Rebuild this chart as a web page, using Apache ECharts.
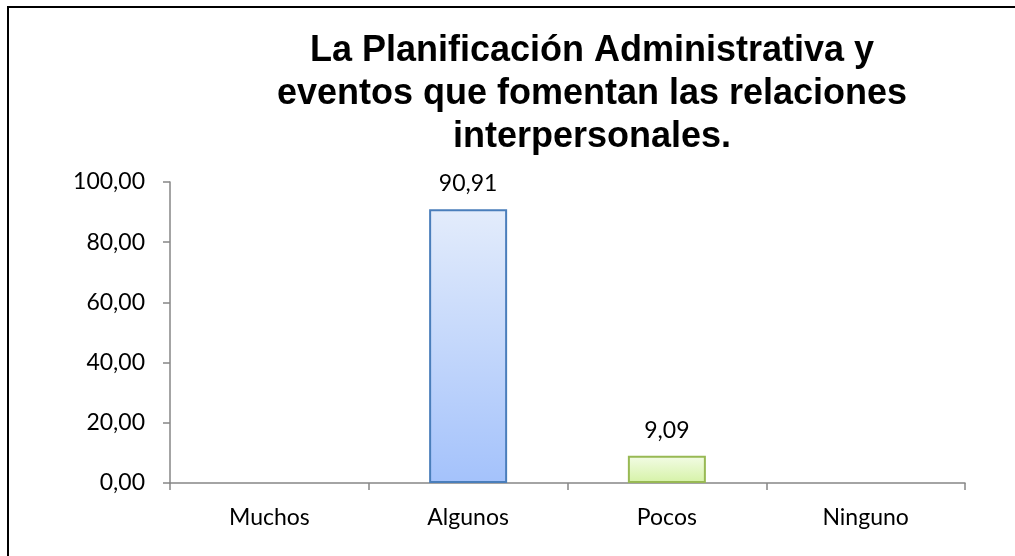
<!DOCTYPE html>
<html>
<head>
<meta charset="utf-8">
<script src="https://cdn.jsdelivr.net/npm/echarts@6/dist/echarts.min.js"></script>
<style>
  html, body { margin: 0; padding: 0; background: #fff; }
  #chart { width: 1015px; height: 556px; }
</style>
</head>
<body>
<div id="chart"></div>
<script>
const categories = ['Muchos', 'Algunos', 'Pocos', 'Ninguno'];
const values = [null, 90.91, 9.09, null];
const yTicks = [0, 20, 40, 60, 80, 100];
const titleText = 'La Planificación Administrativa y\neventos que fomentan las relaciones\ninterpersonales.';

const blueFill = new echarts.graphic.LinearGradient(0, 0, 0, 1, [
  { offset: 0, color: '#E3ECFB' }, { offset: 1, color: '#A4C2FB' }
]);
const greenFill = new echarts.graphic.LinearGradient(0, 0, 0, 1, [
  { offset: 0, color: '#F3FCE6' }, { offset: 1, color: '#D5F2A6' }
]);
const styles = [
  null,
  { color: blueFill, borderColor: '#4A7EBB', borderWidth: 2 },
  { color: greenFill, borderColor: '#98B954', borderWidth: 2 },
  null
];

const fmt = v => v.toFixed(2).replace('.', ',');

const chart = echarts.init(document.getElementById('chart'), null, { renderer: 'canvas' });
chart.setOption({
  backgroundColor: '#ffffff',
  animation: false,
  title: {
    text: titleText,
    left: 587,
    top: 25,
    textAlign: 'center',
    textStyle: {
      fontFamily: '"Liberation Sans", Arial, sans-serif',
      fontWeight: 'bold',
      fontSize: 36,
      lineHeight: 43,
      color: '#000'
    }
  },
  graphic: [{
    type: 'rect',
    shape: { x: 8, y: 7, width: 1200, height: 700 },
    style: { fill: 'none', stroke: '#000', lineWidth: 2 },
    silent: true
  }],
  grid: { left: 170, right: 50, top: 182, bottom: 73 },
  xAxis: {
    type: 'category',
    data: categories,
    axisLine: { lineStyle: { color: '#868686', width: 1.5 } },
    axisTick: { show: true, length: 7, lineStyle: { color: '#868686', width: 1.5 } },
    axisLabel: {
      margin: 23,
      fontFamily: 'Lato, "Open Sans", sans-serif',
      fontSize: 23,
      color: '#000'
    }
  },
  yAxis: {
    type: 'value',
    min: yTicks[0],
    max: yTicks[yTicks.length - 1],
    interval: yTicks[1] - yTicks[0],
    splitLine: { show: false },
    axisLine: { show: true, lineStyle: { color: '#868686', width: 1.5 } },
    axisTick: { show: true, length: 7, lineStyle: { color: '#868686', width: 1.5 } },
    axisLabel: {
      margin: 25,
      fontFamily: 'Lato, "Open Sans", sans-serif',
      fontSize: 23,
      color: '#000',
      formatter: v => fmt(v)
    }
  },
  series: [{
    type: 'bar',
    barWidth: 78,
    data: values.map((v, i) => v == null ? null : { value: v, itemStyle: styles[i] }),
    label: {
      show: true,
      position: 'top',
      distance: 14,
      fontFamily: 'Lato, "Open Sans", sans-serif',
      fontSize: 23,
      color: '#000',
      formatter: p => fmt(p.value)
    }
  }]
});
</script>
</body>
</html>
